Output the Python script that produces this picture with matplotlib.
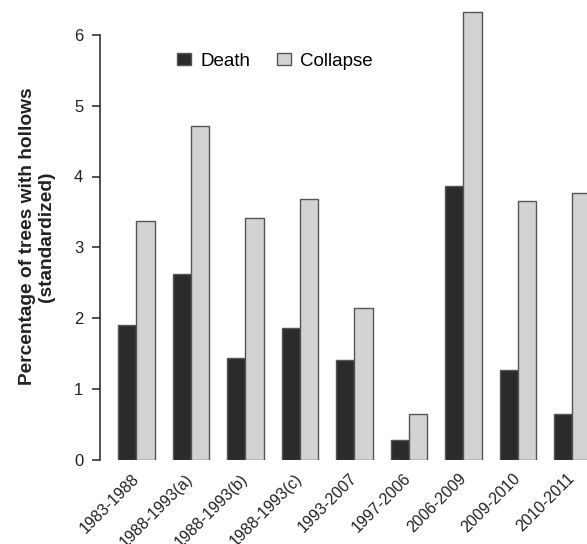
import matplotlib
matplotlib.use("Agg")
import matplotlib.pyplot as plt
import numpy as np

categories = ["1983-1988", "1988-1993(a)", "1988-1993(b)", "1988-1993(c)",
              "1993-2007", "1997-2006", "2006-2009", "2009-2010", "2010-2011"]
death = [1.90, 2.62, 1.43, 1.86, 1.40, 0.28, 3.86, 1.26, 0.65]
collapse = [3.37, 4.71, 3.42, 3.68, 2.14, 0.64, 6.32, 3.65, 3.76]
yticks = [0, 1, 2, 3, 4, 5, 6]

plt.rcParams['font.family'] = ['Liberation Sans', 'DejaVu Sans']

W, H = 587, 544
fig = plt.figure(figsize=(W / 100, H / 100), dpi=100)

unit_px = 18.17
y_px = 70.75
x0_px = 100
y0_px = 459.5
xmax = 27.5
ymax = 6.5
ax = fig.add_axes([x0_px / W, (H - y0_px) / H, xmax * unit_px / W, ymax * y_px / H])

n = len(categories)
idx = np.arange(n)
left_d = 1 + 3 * idx
left_c = 2 + 3 * idx
edge = '#555555'
ax.bar(left_d, death, width=1, align='edge', color='#2b2b2b', edgecolor=edge, linewidth=1.0, label='Death')
ax.bar(left_c, collapse, width=1, align='edge', color='#d3d3d3', edgecolor=edge, linewidth=1.0, label='Collapse')

ax.set_xlim(0, xmax)
ax.set_ylim(0, ymax)
for s in ['top', 'right', 'bottom']:
    ax.spines[s].set_visible(False)
ax.spines['left'].set_bounds(0, 6)
ax.spines['left'].set_color('#333333')
ax.spines['left'].set_linewidth(1.2)
ax.set_yticks(yticks)
ax.set_yticklabels([str(v) for v in yticks])
ax.tick_params(axis='y', length=6, width=1.2, color='#333333', labelsize=12, labelcolor='#222222', pad=6)

ax.set_xticks(2 + 3 * idx)
ax.set_xticklabels(categories, rotation=45, ha='right', va='center', rotation_mode='anchor')
ax.tick_params(axis='x', length=0, labelsize=11.5, labelcolor='#222222', pad=12)

fig.text(37 / W, 1 - 236.5 / H, "Percentage of trees with hollows\n(standardized)",
         rotation=90, ha='center', va='center', fontsize=13.8, fontweight='bold',
         color='#222222', linespacing=1.1)

fig.legend(loc='center left', bbox_to_anchor=(177 / W, 1 - 61 / H), ncol=2, frameon=False,
           fontsize=13.5, handlelength=0.75, handleheight=0.6, handletextpad=0.5,
           columnspacing=1.4, borderpad=0, borderaxespad=0)

fig.savefig("out.png", dpi=100)
